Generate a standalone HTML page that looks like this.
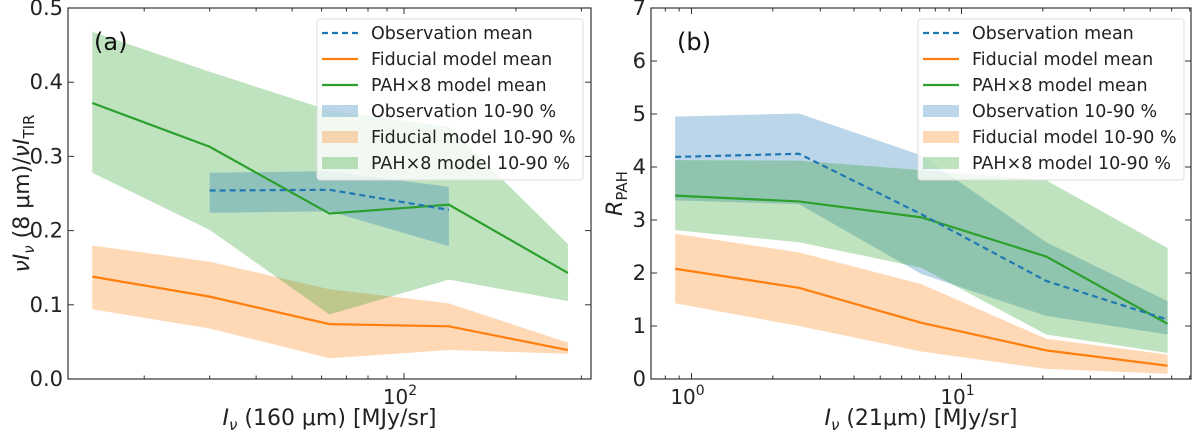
<!DOCTYPE html>
<html><head><meta charset="utf-8"><style>
body{margin:0;background:#fff;width:1200px;height:436px;overflow:hidden}
svg{font-family:"DejaVu Sans","Liberation Sans",sans-serif}
</style></head><body>
<svg id="c" width="1200" height="436"></svg>
<script>
// Panel (a)
const aX=[14.5,30,63,132,276];
const aGreenMean=[0.372,0.313,0.223,0.235,0.143];
const aGreenHi=[0.468,0.414,0.362,0.340,0.182];
const aGreenLo=[0.278,0.201,0.087,0.134,0.105];
const aOrMean=[0.138,0.111,0.074,0.071,0.039];
const aOrHi=[0.180,0.158,0.121,0.102,0.049];
const aOrLo=[0.094,0.068,0.028,0.039,0.034];
const aObsX=[30,63,132];
const aObsMean=[0.254,0.255,0.228];
const aObsHi=[0.278,0.280,0.259];
const aObsLo=[0.224,0.226,0.179];
const aYTicks=[0,0.1,0.2,0.3,0.4,0.5];
// Panel (b)
const bX=[0.87,2.5,7.1,20.6,58];
const bObsMean=[4.19,4.25,3.11,1.85,1.12];
const bObsHi=[4.95,5.01,4.22,2.58,1.47];
const bObsLo=[3.37,3.30,1.98,1.19,0.84];
const bGreenMean=[3.46,3.35,3.05,2.31,1.04];
const bGreenHi=[4.13,4.12,3.94,3.75,2.47];
const bGreenLo=[2.81,2.58,2.10,0.84,0.49];
const bOrMean=[2.08,1.72,1.06,0.54,0.25];
const bOrHi=[2.74,2.39,1.79,0.76,0.46];
const bOrLo=[1.43,1.00,0.52,0.19,0.10];
const bYTicks=[0,1,2,3,4,5,6,7];

const NS="http://www.w3.org/2000/svg";
const svg=document.getElementById('c');
function mk(t,a,p){const e=document.createElementNS(NS,t);for(const k in a)e.setAttribute(k,a[k]);(p||svg).appendChild(e);return e;}
const C={b:'#1f77b4',o:'#ff7f0e',g:'#2ca02c'};

function panel(o){
  const g=mk('g',{});
  
  
  const sx=v=>o.x0+(Math.log10(v)-o.lmin)/(o.lmax-o.lmin)*(o.x1-o.x0);
  const sy=v=>o.y1-(v-o.ymin)/(o.ymax-o.ymin)*(o.y1-o.y0);
  function band(xs,hi,lo,col,nm){
    let d='M'+xs.map((x,i)=>sx(x)+','+sy(hi[i])).join('L');
    for(let i=xs.length-1;i>=0;i--)d+='L'+sx(xs[i])+','+sy(lo[i]);
    const p=mk('path',{d:d+'Z',fill:col,'fill-opacity':0.3,stroke:'none'},g);
    
    
  }
  function line(xs,ys,col,dash,nm){
    const p=mk('polyline',{points:xs.map((x,i)=>sx(x)+','+sy(ys[i])).join(' '),fill:'none',stroke:col,'stroke-width':2.2,'stroke-dasharray':dash||'none'},g);
    
    
  }
  o.draw(band,line);
  const f=mk('rect',{x:o.x0,y:o.y0,width:o.x1-o.x0,height:o.y1-o.y0,fill:'none',stroke:'#333','stroke-width':1.2},g);
  
  
  o.yt.forEach(v=>{const y=sy(v);
    mk('line',{x1:o.x0,x2:o.x0+6,y1:y,y2:y,stroke:'#333'},g);
    mk('line',{x1:o.x1,x2:o.x1-6,y1:y,y2:y,stroke:'#333'},g);
    const t=mk('text',{x:o.x0-5,y:y+7,'text-anchor':'end','font-size':21,fill:'#222'},g);
    t.textContent=o.yfmt(v);
    
    
  });
  for(let dec=Math.floor(o.lmin);dec<=Math.ceil(o.lmax);dec++){
    for(let m=1;m<10;m++){const l=dec+Math.log10(m);if(l<o.lmin||l>o.lmax)continue;
      const x=o.x0+(l-o.lmin)/(o.lmax-o.lmin)*(o.x1-o.x0);const len=m==1?6:3.5;
      mk('line',{x1:x,x2:x,y1:o.y1,y2:o.y1-len,stroke:'#333'},g);
      mk('line',{x1:x,x2:x,y1:o.y0,y2:o.y0+len,stroke:'#333'},g);
      if(m==1){const t=mk('text',{x:x-4,y:o.y1+25,'text-anchor':'middle','font-size':20,fill:'#222'},g);
        t.innerHTML='10<tspan dy="-9" font-size="14">'+dec+'</tspan>';
        
        }
    }
  }
  const pl=mk('text',{x:o.x0+26,y:o.y0+42,'font-size':24,fill:'#111'},g);
  pl.textContent=o.tag;
  
  
  const xl=mk('text',{x:(o.x0+o.x1)/2,y:425,'text-anchor':'middle','font-size':22,fill:'#222'},g);
  xl.innerHTML=o.xlab;
  
  
  const yl=mk('text',{transform:'translate('+o.ylx+','+((o.y0+o.y1)/2)+') rotate(-90)','text-anchor':'middle','font-size':22,fill:'#222'},g);
  yl.innerHTML=o.ylab;
  
  
  const lx=o.lx,ly=19;
  const lg=mk('g',{},g);
  
  
  mk('rect',{x:lx,y:ly,width:266,height:161,rx:3,fill:'#fff','fill-opacity':0.8,stroke:'#ddd'},lg);
  const items=[['Observation mean',C.b,'l','6,4'],['Fiducial model mean',C.o,'l'],['PAH×8 model mean',C.g,'l'],['Observation 10-90 %',C.b,'f'],['Fiducial model 10-90 %',C.o,'f'],['PAH×8 model 10-90 %',C.g,'f']];
  items.forEach((it,i)=>{const y=33+i*26;
    const e=mk('g',{},lg);
    
    
    if(it[2]=='l')mk('line',{x1:lx+5,x2:lx+41,y1:y,y2:y,stroke:it[1],'stroke-width':2.2,'stroke-dasharray':it[3]||'none'},e);
    else mk('rect',{x:lx+5,y:y-6,width:36,height:12,fill:it[1],'fill-opacity':0.3},e);
    const t=mk('text',{x:lx+54,y:y+6,'font-size':17.5,fill:'#222'},e);t.textContent=it[0];
  });
}
panel({name:'panel-a',tag:'(a)',x0:68,x1:591,y0:8,y1:379,lmin:1.096,lmax:2.503,ymin:0,ymax:0.5,yt:aYTicks,yfmt:v=>v.toFixed(1),lx:317,ylx:29,
  xlab:'<tspan font-style="italic">I</tspan><tspan font-size="15" dy="5" font-style="italic">ν</tspan><tspan dy="-5"> (160 μm) [MJy/sr]</tspan>',
  ylab:'<tspan font-style="italic">νI</tspan><tspan font-size="15" dy="5" font-style="italic">ν</tspan><tspan dy="-5"> (8 μm)/</tspan><tspan font-style="italic">νI</tspan><tspan font-size="15" dy="5">TIR</tspan>',
  draw:(band,line)=>{
    band(aX,aOrHi,aOrLo,C.o,'fiducial-band');
    band(aX,aGreenHi,aGreenLo,C.g,'pah8-band');
    band(aObsX,aObsHi,aObsLo,C.b,'observation-band');
    line(aX,aOrMean,C.o,null,'fiducial-mean-line');
    line(aX,aGreenMean,C.g,null,'pah8-mean-line');
    line(aObsX,aObsMean,C.b,'6,4','observation-mean-line');
  }});
panel({name:'panel-b',tag:'(b)',x0:651,x1:1191,y0:8,y1:379,lmin:-0.15,lmax:1.85,ymin:0,ymax:7,yt:bYTicks,yfmt:v=>String(v),lx:918,ylx:622,
  xlab:'<tspan font-style="italic">I</tspan><tspan font-size="15" dy="5" font-style="italic">ν</tspan><tspan dy="-5"> (21μm) [MJy/sr]</tspan>',
  ylab:'<tspan font-style="italic">R</tspan><tspan font-size="15" dy="5">PAH</tspan>',
  draw:(band,line)=>{
    band(bX,bObsHi,bObsLo,C.b,'observation-band');
    band(bX,bOrHi,bOrLo,C.o,'fiducial-band');
    band(bX,bGreenHi,bGreenLo,C.g,'pah8-band');
    line(bX,bOrMean,C.o,null,'fiducial-mean-line');
    line(bX,bGreenMean,C.g,null,'pah8-mean-line');
    line(bX,bObsMean,C.b,'6,4','observation-mean-line');
  }});
</script>
</body></html>
